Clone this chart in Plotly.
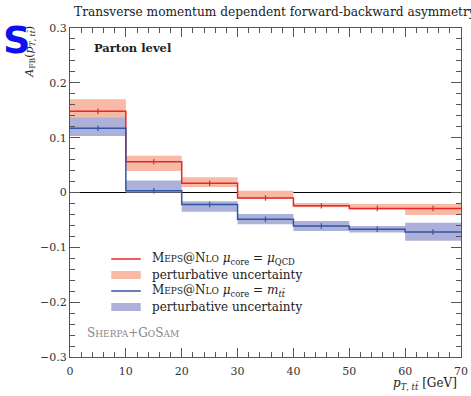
import plotly.graph_objects as go

# ---- data ----
bin_edges = [0, 10, 20, 30, 40, 50, 60, 70]
qcd_val = [0.148, 0.056, 0.017, -0.010, -0.024, -0.029, -0.029]
qcd_hi = [0.170, 0.067, 0.028, 0.003, -0.019, -0.021, -0.021]
qcd_lo = [0.126, 0.039, 0.010, -0.012, -0.027, -0.031, -0.041]
mtt_val = [0.117, 0.003, -0.022, -0.049, -0.061, -0.067, -0.072]
mtt_hi = [0.137, 0.022, -0.016, -0.039, -0.052, -0.061, -0.055]
mtt_lo = [0.103, 0.000, -0.035, -0.058, -0.070, -0.073, -0.088]
stat_err = 0.005

x_ticks = [0, 10, 20, 30, 40, 50, 60, 70]
y_ticks = [-0.3, -0.2, -0.1, 0, 0.1, 0.2, 0.3]

RED = "#e8272b"
RED_BAND = "#f8baa5"
BLUE = "#2f56a6"
BLUE_BAND = "#adb1d9"
FONT = "DejaVu Serif"

W, H = 471, 396
ML, MR, MT, MB = 70, 3, 28, 39
PW, PH = W - ML - MR, H - MT - MB


def px(x):
    return (x - ML) / PW


def py(y):
    return (H - MB - y) / PH


centers = [(bin_edges[i] + bin_edges[i + 1]) / 2 for i in range(len(bin_edges) - 1)]


def band_poly(lo, hi):
    xs, ys = [], []
    for i in range(len(hi)):
        xs += [bin_edges[i], bin_edges[i + 1]]
        ys += [hi[i], hi[i]]
    for i in reversed(range(len(lo))):
        xs += [bin_edges[i + 1], bin_edges[i]]
        ys += [lo[i], lo[i]]
    return xs, ys


fig = go.Figure()

for lo, hi, band in [(qcd_lo, qcd_hi, RED_BAND), (mtt_lo, mtt_hi, BLUE_BAND)]:
    bx, by = band_poly(lo, hi)
    fig.add_trace(go.Scatter(x=bx, y=by, fill="toself", fillcolor=band, line=dict(width=0),
                             mode="lines", showlegend=False, hoverinfo="skip"))

for vals, col in [(qcd_val, RED), (mtt_val, BLUE)]:
    fig.add_trace(go.Scatter(x=bin_edges, y=vals + [vals[-1]], mode="lines", line_shape="hv",
                             line=dict(color=col, width=1.5), showlegend=False))
    fig.add_trace(go.Scatter(x=centers, y=vals, mode="markers", marker=dict(size=1, color=col),
                             error_y=dict(type="constant", value=stat_err, color=col, width=0, thickness=1.2),
                             showlegend=False))

axcol = "#555555"
fig.update_xaxes(range=[0, 70], tickvals=x_ticks, ticks="inside", ticklen=9, tickcolor=axcol,
                 showline=True, linecolor=axcol, linewidth=1.2, mirror="ticks", showgrid=False,
                 zeroline=False, minor=dict(dtick=2, ticks="inside", ticklen=5, tickcolor=axcol),
                 ticklabeloverflow="allow", ticklabelstandoff=4,
                 tickfont=dict(family=FONT, size=11, color="#333"))
fig.update_yaxes(range=[-0.3, 0.3], tickvals=y_ticks, ticks="inside", ticklen=10, tickcolor=axcol,
                 showline=True, linecolor=axcol, linewidth=1.2, mirror="ticks", showgrid=False,
                 zeroline=True, zerolinecolor="black", zerolinewidth=1.2,
                 minor=dict(dtick=0.02, ticks="inside", ticklen=5, tickcolor=axcol),
                 tickfont=dict(family=FONT, size=11, color="#333"))

fig.update_layout(
    width=W, height=H, margin=dict(l=ML, r=MR, t=MT, b=MB),
    paper_bgcolor="white", plot_bgcolor="white",
    font=dict(family=FONT, color="#333"),
    showlegend=False,
)

# ---- manual legend (compact rows like the reference) ----
lab_core = ("M<span style='font-size:9px'>EPS</span>@N<span style='font-size:9px'>LO</span> "
            "<i>μ</i><sub>core</sub> = ")
legend_rows = [
    ("line", RED, lab_core + "<i>μ</i><sub>QCD</sub>", 259),
    ("band", RED_BAND, "perturbative uncertainty", 275),
    ("line", BLUE, lab_core + "<i>m</i><sub><i>tt̄</i></sub>", 291),
    ("band", BLUE_BAND, "perturbative uncertainty", 307),
]
for kind, col, text, yy in legend_rows:
    if kind == "line":
        fig.add_shape(type="line", xref="paper", yref="paper", x0=px(112), x1=px(142),
                      y0=py(yy), y1=py(yy), line=dict(color=col, width=1.5))
    else:
        fig.add_shape(type="rect", xref="paper", yref="paper", x0=px(112), x1=px(142),
                      y0=py(yy - 4), y1=py(yy + 4), fillcolor=col, line=dict(width=0))
    fig.add_annotation(text=text, xref="paper", yref="paper", x=px(151), y=py(yy),
                       xanchor="left", yanchor="middle", showarrow=False,
                       font=dict(family=FONT, size=12, color="#222"))

fig.add_annotation(text="Transverse momentum dependent forward-backward asymmetry",
                   xref="paper", yref="paper", x=px(72), y=py(12), xanchor="left", yanchor="middle",
                   showarrow=False, font=dict(family=FONT, size=12.2, color="#222"))
fig.add_annotation(text="<b>Parton level</b>", xref="paper", yref="paper", x=px(92), y=py(48),
                   xanchor="left", yanchor="middle", showarrow=False,
                   font=dict(family=FONT, size=11.5, color="#222"))
fig.add_annotation(text="S<span style='font-size:9px'>HERPA</span>+G<span style='font-size:9px'>O</span>S<span style='font-size:9px'>AM</span>",
                   xref="paper", yref="paper", x=px(85), y=py(333), xanchor="left", yanchor="middle",
                   showarrow=False, font=dict(family=FONT, size=12, color="#888"))
fig.add_annotation(text="<i>p</i><sub><i>T</i>, <i>tt̄</i></sub> [GeV]", xref="paper", yref="paper",
                   x=px(466), y=py(384), xanchor="right", yanchor="middle", showarrow=False,
                   font=dict(family=FONT, size=12, color="#222"))
fig.add_annotation(text="<i>A</i><sub>FB</sub>(<i>p</i><sub><i>T</i>, <i>tt̄</i></sub>)", xref="paper", yref="paper",
                   x=px(29), y=py(24), xanchor="center", yanchor="top", textangle=-90, showarrow=False,
                   font=dict(family=FONT, size=11, color="#222"))
fig.add_annotation(text="<b>S</b>", xref="paper", yref="paper", x=px(0), y=py(16),
                   xanchor="left", yanchor="top", showarrow=False,
                   font=dict(family="DejaVu Sans", size=38, color="#1010ee"))

fig.write_html("out.html")
